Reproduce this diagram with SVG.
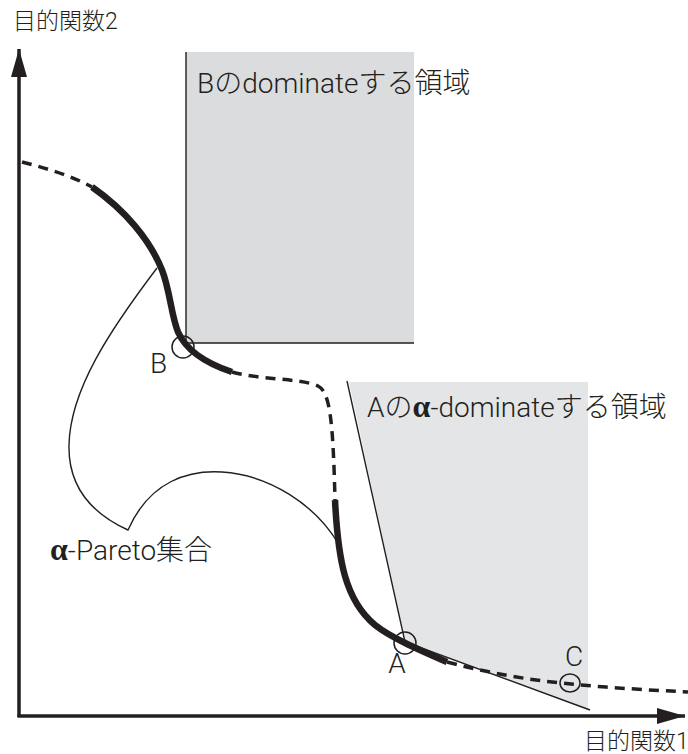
<svg xmlns="http://www.w3.org/2000/svg" width="688" height="754" viewBox="0 0 688 754">
<defs>
<style>
.t{font-family:Roboto,"Noto Sans CJK JP","Noto Sans",sans-serif;font-weight:300;fill:#231f20}
.ax{font-size:23px}
.lb{font-size:28px}
.al{font-family:"Liberation Serif","DejaVu Serif",serif;font-weight:bold;font-size:32px}
.thin{fill:none;stroke:#231f20;stroke-width:1.4}
.dash{fill:none;stroke:#231f20;stroke-width:3.5;stroke-dasharray:10 7}
.thick{fill:none;stroke:#231f20;stroke-width:6.5;stroke-linecap:butt}
.axis{fill:none;stroke:#231f20;stroke-width:3.5}
.pt{fill:none;stroke:#231f20;stroke-width:1.5}
</style>
<marker id="arr" markerUnits="userSpaceOnUse" markerWidth="30" markerHeight="18" refX="28" refY="8" orient="auto">
<path d="M0,0 L28,8 L0,16 z" fill="#231f20"/>
</marker>
</defs>
<rect width="688" height="754" fill="#fff"/>

<g id="regionB">
<rect x="186" y="52" width="228" height="291" fill="#dbdcde"/>
<polyline class="thin" points="186,52 186,343 414,343"/>
<text class="t lb" x="197" y="93">Bのdominateする領域</text>
</g>

<g id="regionA">
<polygon points="349,382 588,382 588,710 405,642" fill="#e4e5e7"/>
<polyline class="thin" points="347,381 405,642 590,710"/>
<text class="t lb" x="367" y="417">Aの<tspan class="al">α</tspan>-dominateする領域</text>
</g>

<g id="axes">
<line class="axis" x1="19" y1="717" x2="19" y2="49" marker-end="url(#arr)"/>
<line class="axis" x1="17.5" y1="716" x2="685" y2="716" marker-end="url(#arr)"/>
<text class="t ax" x="13" y="29">目的関数2</text>
<text class="t ax" x="584" y="749">目的関数1</text>
</g>

<g id="alphaPareto">
<path class="thin" d="M157,268 C110,330 70,390 69,445 C68,490 95,515 128,530 C150,480 190,470 222,472 C270,475 315,505 338,543"/>
<text class="t lb" x="50" y="560"><tspan class="al">α</tspan>-Pareto集合</text>
</g>

<g id="connectors">
<path class="dash" d="M22,162 C45,168 70,175 92,187"/>
<path class="thick" d="M92,187 C125,210 150,240 162,270 C170,290 171,315 178,332 C186,350 205,363 232,372"/>
<path class="dash" d="M232,372 C260,380 300,378 318,386 C330,392 333,420 335,500"/>
<path class="thick" d="M335,500 C338,560 345,600 375,625 C390,637 415,648 447,662"/>
<path class="dash" d="M447,662 C500,676 540,681 571,684 C610,688 650,690 688,692"/>
</g>

<g id="pointB">
<circle class="pt" cx="183" cy="347" r="11"/>
<text class="t lb" x="150" y="373">B</text>
</g>
<g id="pointA">
<circle class="pt" cx="405" cy="643" r="11"/>
<text class="t lb" x="397" y="673" text-anchor="middle">A</text>
</g>
<g id="pointC">
<ellipse class="pt" cx="570" cy="683" rx="10" ry="9"/>
<text class="t lb" x="565" y="666">C</text>
</g>
</svg>
